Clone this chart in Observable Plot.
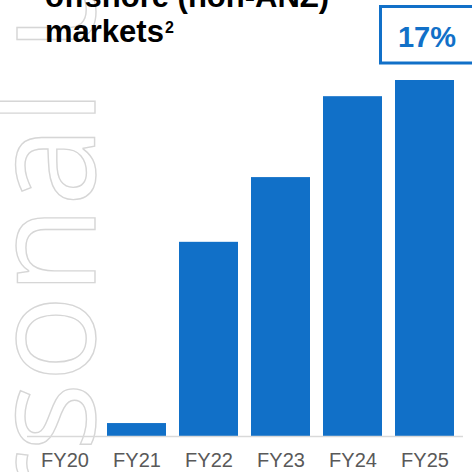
<!DOCTYPE html>
<html>
<head>
<meta charset="utf-8">
<script src="https://cdn.jsdelivr.net/npm/d3@7"></script>
<script src="https://cdn.jsdelivr.net/npm/@observablehq/plot@0.6"></script>
<style>
  html, body { margin: 0; padding: 0; background: #fff; overflow: hidden; }
  #chart { position: relative; width: 472px; height: 472px; }
</style>
</head>
<body>
<div id="chart"></div>
<script>
const years = ["FY20", "FY21", "FY22", "FY23", "FY24", "FY25"];
const values = [0, 0.2, 3.0, 4.0, 5.25, 5.5];
const titleLines = ["offshore (non-ANZ)", "markets"];
const titleSup = "2";
const badge = "17%";
const watermark = ["Personal", "use only"];

const data = years.map((y, i) => ({ year: y, value: values[i] }));
const blue = "#1170c8";

const plot = Plot.plot({
  width: 472,
  height: 472,
  marginTop: 80,
  marginBottom: 36,
  marginLeft: 27,
  marginRight: 9,
  style: { fontFamily: "'Liberation Sans', Arial, sans-serif", color: "#595959", background: "transparent", overflow: "hidden" },
  x: { domain: years, paddingInner: 0.175, paddingOuter: 0.09, axis: null },
  y: { domain: [0, 5.5], axis: null },
  marks: [
    Plot.barY(data, { x: "year", y: "value", fill: blue }),
    Plot.ruleY([0], { stroke: "#d9d9d9", strokeWidth: 1.5 }),
    Plot.axisX({ tickSize: 0, tickPadding: 16, fontSize: 20, label: null })
  ]
});
document.getElementById("chart").appendChild(plot);

const svg = d3.select(plot);
// watermark behind everything
const wm = svg.insert("g", ":first-child")
  .attr("fill", "none")
  .attr("stroke", "#d6d6d6")
  .attr("stroke-width", 1.4)
  .attr("font-family", "'Open Sans', sans-serif")
  .attr("font-size", 145);
wm.append("text").attr("transform", "translate(95,89) rotate(-90)").attr("text-anchor", "end").text(watermark[0]);
wm.append("text").attr("transform", "translate(95,51) rotate(-90)").attr("text-anchor", "start").text(watermark[1]);

// title
const t = svg.append("g")
  .attr("font-family", "'Liberation Sans', Arial, sans-serif")
  .attr("font-weight", "bold")
  .attr("text-anchor", "start")
  .attr("fill", "#000");
t.append("text").attr("x", 45).attr("y", 7).attr("font-size", 31).text(titleLines[0]);
const l2 = t.append("text").attr("x", 45).attr("y", 42).attr("font-size", 31);
l2.append("tspan").text(titleLines[1]);
l2.append("tspan").attr("font-size", 16).attr("dy", -9.5).attr("dx", 1).text(titleSup);

// badge
svg.append("rect")
  .attr("x", 380.5).attr("y", 6.5).attr("width", 110).attr("height", 56.5)
  .attr("fill", "none").attr("stroke", blue).attr("stroke-width", 3);
svg.append("text")
  .attr("x", 427).attr("y", 46.5)
  .attr("text-anchor", "middle")
  .attr("font-family", "'Liberation Sans', Arial, sans-serif")
  .attr("font-weight", "bold").attr("font-size", 29)
  .attr("fill", blue).text(badge);
</script>
</body>
</html>
